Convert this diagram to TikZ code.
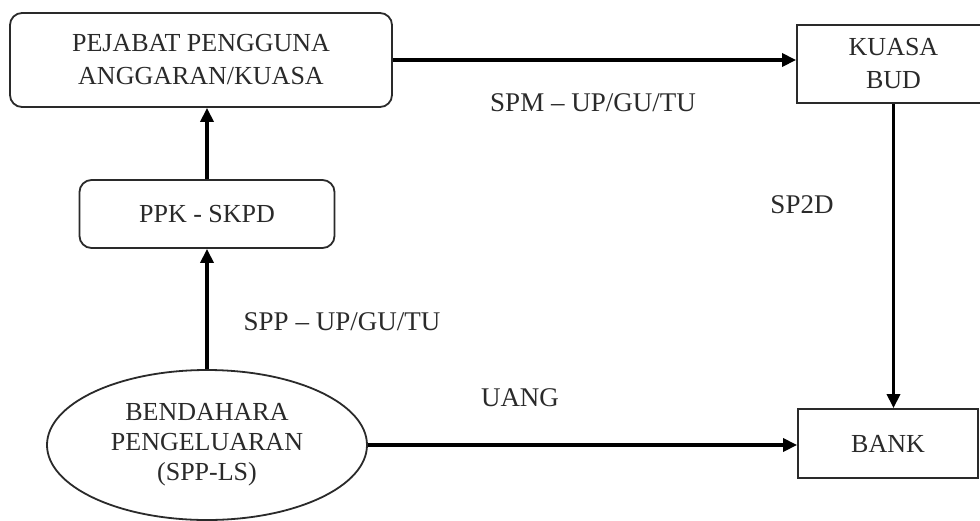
\documentclass[tikz,border=0pt]{standalone}
\usepackage{fontspec}
\setmainfont{Liberation Serif}
\usetikzlibrary{arrows.meta,shapes.geometric}
\definecolor{ink}{HTML}{2A2A2A}
\tikzset{
  box/.style={draw=ink, line width=1.8pt, align=center, text=ink, font=\fontsize{26}{33}\selectfont, inner sep=0pt},
  rbox/.style={box, rounded corners=12pt},
  flow/.style={draw=black, line width=3.4pt, -{Triangle[length=14pt,width=13pt]}},
  lbl/.style={text=ink, font=\fontsize{27}{30}\selectfont}
}
\begin{document}
\begin{tikzpicture}[x=1pt,y=-1pt]
\useasboundingbox (0,0) rectangle (980,520);
\clip (0,0) rectangle (980,520);
\fill[white] (0,0) rectangle (980,520);
\node[rbox, minimum width=382pt, minimum height=94pt] (pa) at (201,60) {PEJABAT PENGGUNA\\ANGGARAN/KUASA};
\node[rbox, minimum width=255pt, minimum height=68pt] (ppk) at (207,214) {PPK - SKPD};
\node[box, minimum width=193pt, minimum height=78pt] (bud) at (893.5,64) {KUASA\\BUD};
\node[box, minimum width=180pt, minimum height=69pt] (bank) at (888,443.5) {BANK};
\node[box, ellipse, minimum width=320pt, minimum height=150pt, font=\fontsize{26}{30}\selectfont] (bp) at (207,445) {BENDAHARA\\PENGELUARAN\\(SPP-LS)};
\draw[flow] (pa.east) -- (pa.east -| bud.west);
\draw[flow] (bud.south) -- (bud.south |- bank.north);
\draw[flow] (ppk.north) -- (ppk.north |- pa.south);
\draw[flow] (bp.north) -- (ppk.south);
\draw[flow] (bp.east) -- (bp.east -| bank.west);
\node[lbl] (l1) at (593,103) {SPM -- UP/GU/TU};
\node[lbl] (l2) at (802,205) {SP2D};
\node[lbl] (l3) at (342,322) {SPP -- UP/GU/TU};
\node[lbl] (l4) at (520,398) {UANG};
\end{tikzpicture}
\end{document}
